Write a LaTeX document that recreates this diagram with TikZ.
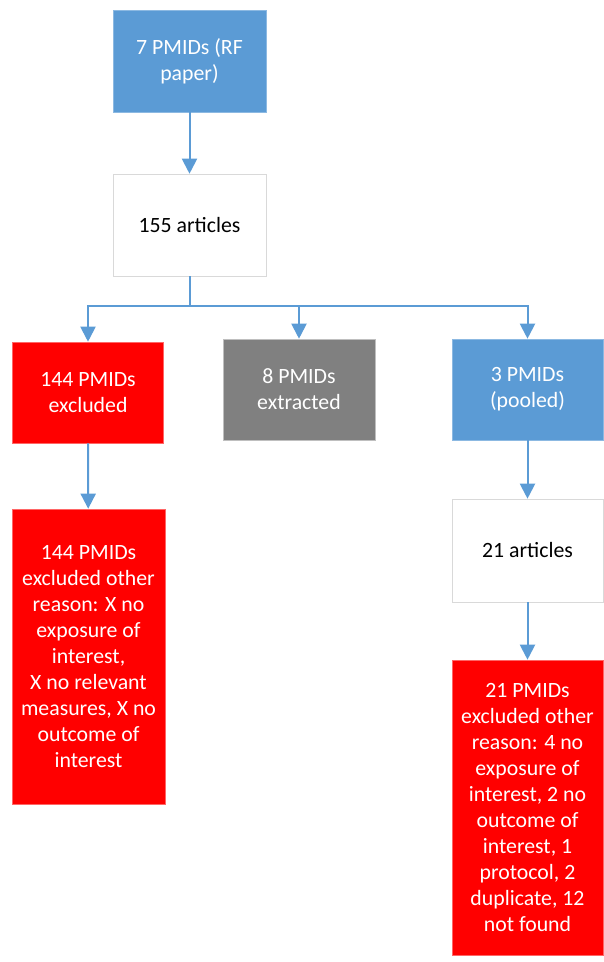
\documentclass[tikz,border=0pt]{standalone}
\usepackage{fontspec}
\setmainfont{Carlito}
\usepackage{xcolor}
\usetikzlibrary{arrows.meta,positioning,calc}

\definecolor{flowblue}{HTML}{5B9BD5}
\definecolor{flowred}{HTML}{FF0000}
\definecolor{flowgray}{HTML}{808080}

\tikzset{
	box/.style={draw=black!15, line width=0.6pt, inner sep=0pt, align=center,
		font=\fontsize{21.8}{26}\selectfont},
	bluebox/.style={box, fill=flowblue, draw=flowblue!70!white, text=white},
	redbox/.style={box, fill=flowred, draw=flowred!60!white, text=white},
	graybox/.style={box, fill=flowgray, draw=black!25, text=white},
	whitebox/.style={box, fill=white, draw=black!15, text=black},
	arr/.style={draw=flowblue, line width=2pt, -{Triangle[length=15pt,width=15pt]}},
	link/.style={draw=flowblue, line width=2pt}
}

\begin{document}
\begin{tikzpicture}[x=1pt,y=-1pt]
		\useasboundingbox (0,0) rectangle (604,962);

		\node[bluebox, minimum width=153pt, minimum height=102pt] (seed) at (189.5,61) {7 PMIDs (RF\\paper)};
		\node[whitebox, minimum width=153pt, minimum height=102pt] (found) at (189.5,225) {155 articles};

		\node[redbox, minimum width=151pt, minimum height=101pt] (excl) at (88,392.5) {144 PMIDs\\excluded};
		\node[graybox, minimum width=152pt, minimum height=101pt] (extr) at (299,389.5) {8 PMIDs\\extracted};
		\node[bluebox, minimum width=151pt, minimum height=101pt] (pool) at (527.5,389.5) {3 PMIDs\\(pooled)};

		\node[redbox, minimum width=153pt, minimum height=295pt] (exclwhy) at (88.5,656.5) {144 PMIDs\\excluded other\\reason: X no\\exposure of\\interest,\\X no relevant\\measures, X no\\outcome of\\interest};
		\node[whitebox, minimum width=151pt, minimum height=103pt] (poolart) at (527.5,550.5) {21 articles};
		\node[redbox, minimum width=151pt, minimum height=295pt] (poolwhy) at (527.5,807.5) {21 PMIDs\\excluded other\\reason: 4 no\\exposure of\\interest, 2 no\\outcome of\\interest, 1\\protocol, 2\\duplicate, 12\\not found};

		\coordinate (split) at (189.5,306);

		\draw[arr] (seed) -- (found);
		\draw[link] (found.south) -- (split);
		\draw[arr] (split) -| (excl.north);
		\draw[arr] (split) -| (extr.north);
		\draw[arr] (split) -| (pool.north);
		\draw[arr] (excl) -- (exclwhy);
		\draw[arr] (pool) -- (poolart);
		\draw[arr] (poolart) -- (poolwhy);
	\end{tikzpicture}
\end{document}
